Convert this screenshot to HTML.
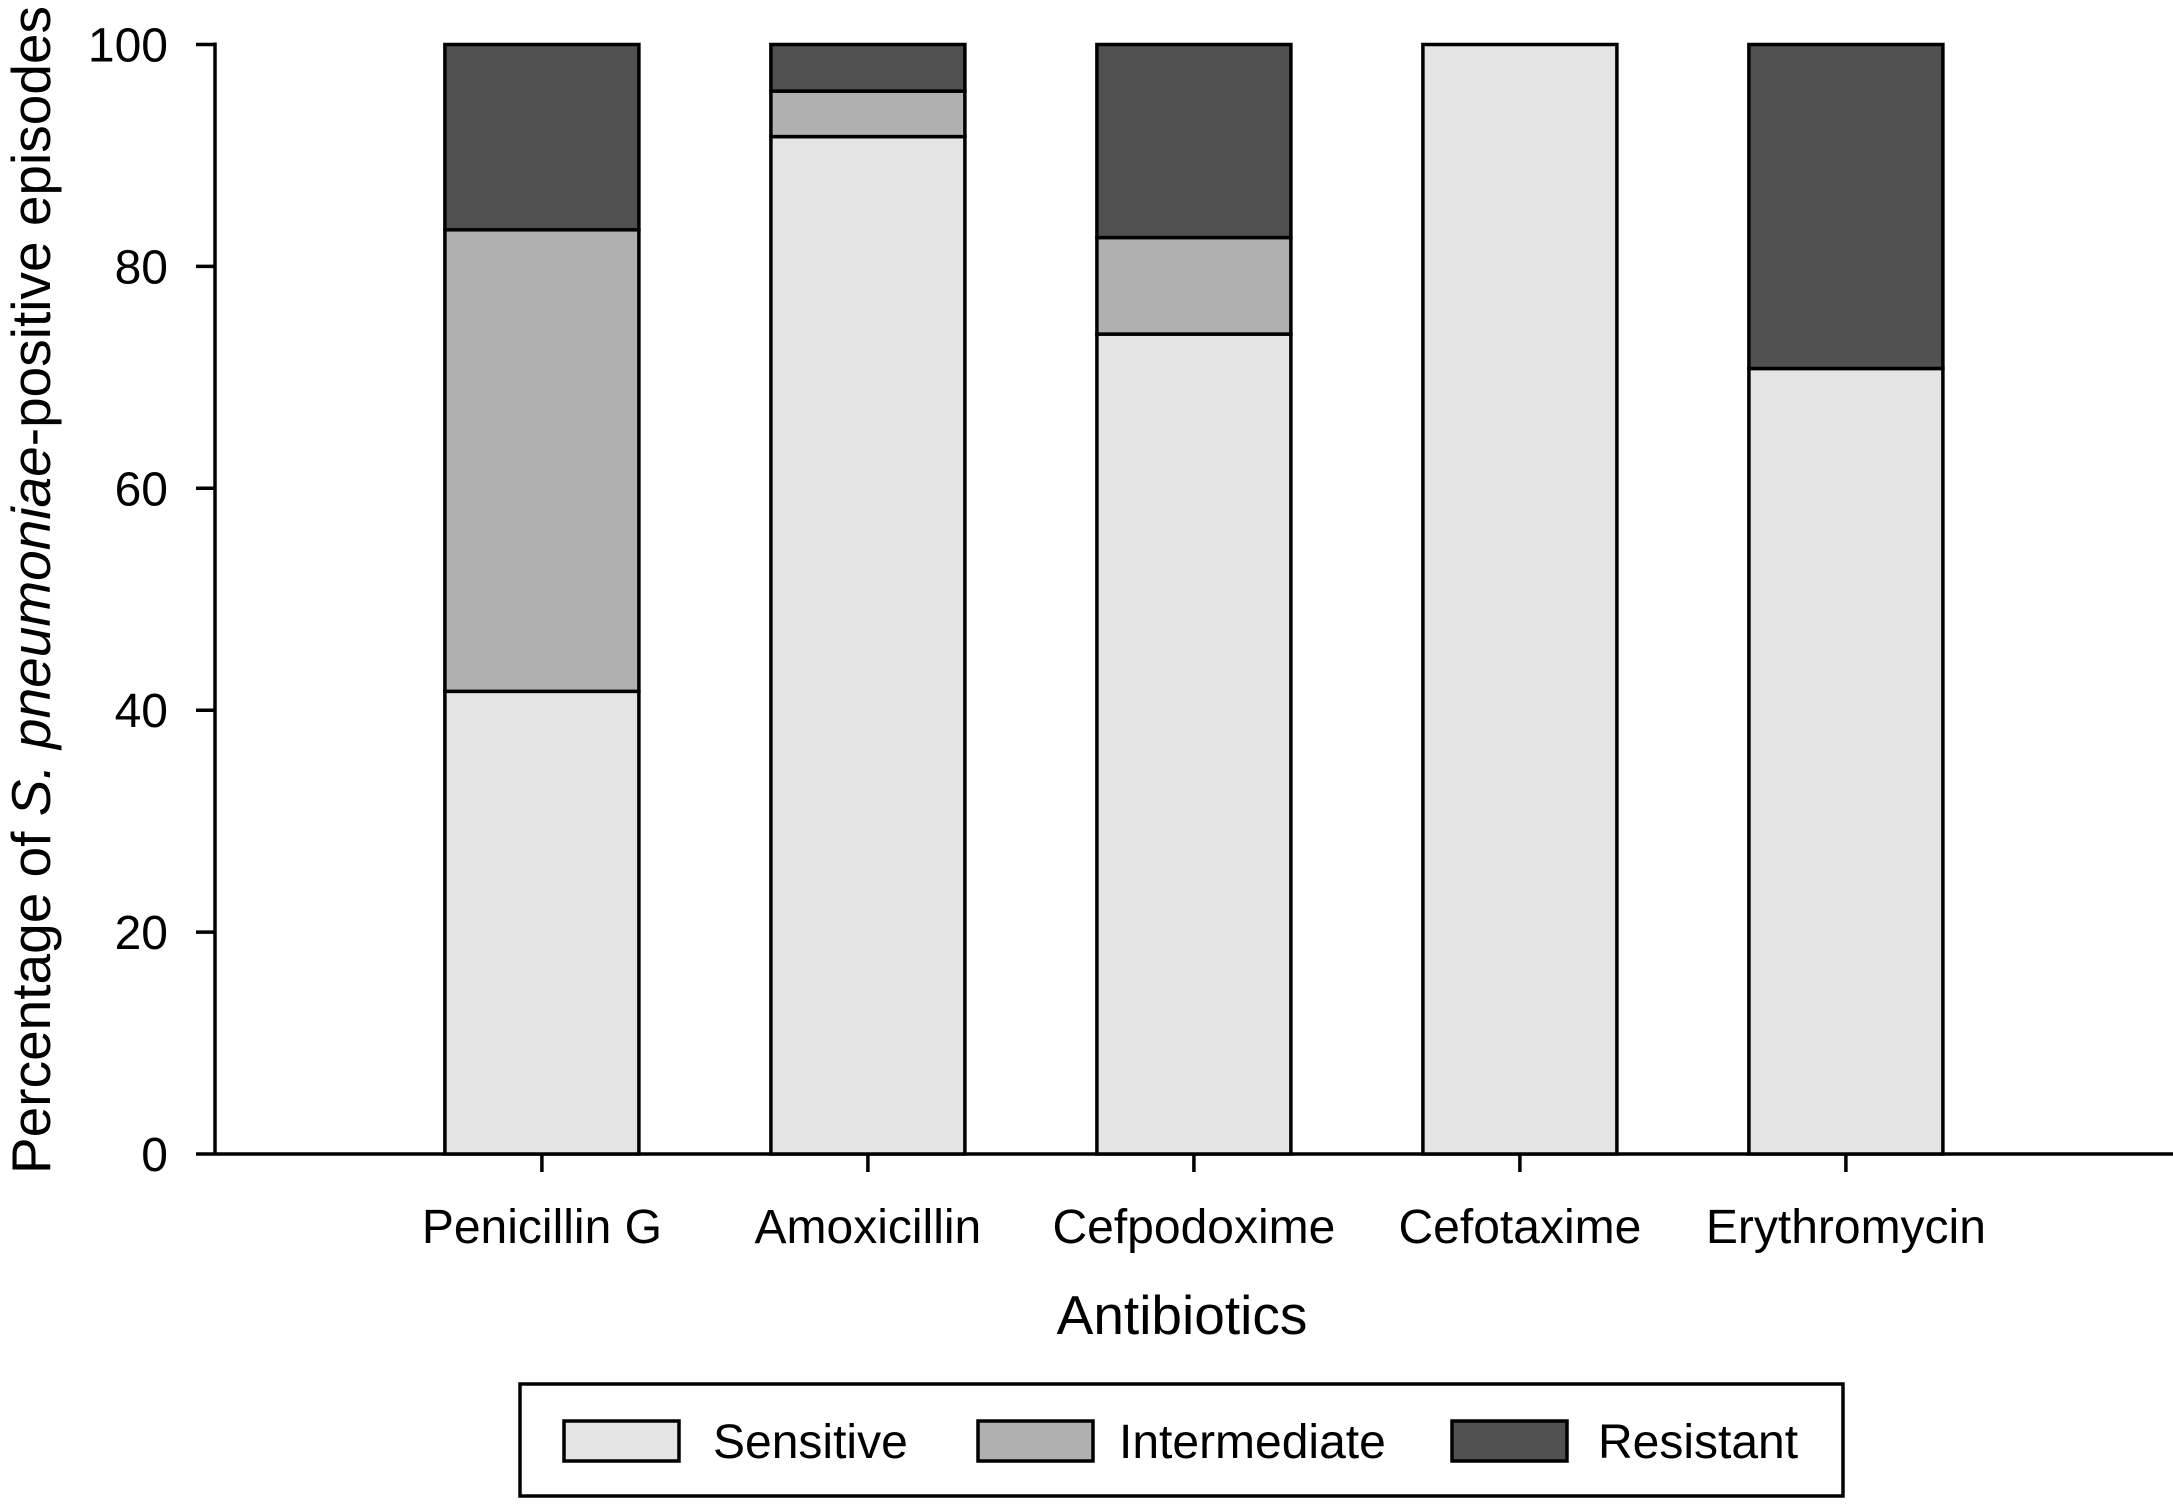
<!DOCTYPE html>
<html><head><meta charset="utf-8"><style>
html,body{margin:0;padding:0;background:#fff}
svg text{font-family:"Liberation Sans",Arial,sans-serif;fill:#000}
</style></head><body>
<svg id="chart" width="2173" height="1499" viewBox="0 0 2173 1499" xmlns="http://www.w3.org/2000/svg">
<g id="plot"></g>
</svg>
<script>
const categories = ["Penicillin G","Amoxicillin","Cefpodoxime","Cefotaxime","Erythromycin"];
const sensitive = [41.7, 91.7, 73.9, 100, 70.8];
const intermediate = [41.6, 4.1, 8.7, 0, 0];
const resistant = [16.7, 4.2, 17.4, 0, 29.2];
const yTicks = [0,20,40,60,80,100];
const seriesNames = ["Sensitive","Intermediate","Resistant"];

const NS="http://www.w3.org/2000/svg";
const svg=document.getElementById('plot');
const y0=1154, y100=44.5;
const yScale=v=>y0-(y0-y100)*v/100;
const x0=541.9, step=326;
const xScale=i=>x0+i*step;
const barW=194;
const colors=["#e4e4e4","#b0b0b0","#505050"];
function mk(tag,attrs){const e=document.createElementNS(NS,tag);for(const k in attrs)e.setAttribute(k,attrs[k]);svg.appendChild(e);return e;}

let e=mk('line',{x1:215,y1:y0,x2:2173,y2:y0,stroke:'#000','stroke-width':3.5});


e=mk('line',{x1:215,y1:y100-2,x2:215,y2:y0,stroke:'#000','stroke-width':3.5});



yTicks.forEach(t=>{
  const y=yScale(t);
  let l=mk('line',{x1:196,y1:y,x2:215,y2:y,stroke:'#000','stroke-width':3.5});
  
  
  let tx=mk('text',{x:168,y:y+17,'text-anchor':'end','font-size':48});
  tx.textContent=t;
  
  
});

const series=[sensitive,intermediate,resistant];
categories.forEach((c,i)=>{
  const cx=xScale(i);
  let cum=0;
  series.forEach((s,k)=>{
    const v=s[i];
    if(v<=0) return;
    const yt=yScale(cum+v), yb=yScale(cum);
    let r=mk('rect',{x:cx-barW/2,y:yt,width:barW,height:yb-yt,fill:colors[k],stroke:'#000','stroke-width':3.5});
    
    
    cum+=v;
  });
  let l=mk('line',{x1:cx,y1:y0,x2:cx,y2:y0+18,stroke:'#000','stroke-width':3.5});
  
  
  let tx=mk('text',{x:cx,y:1243,'text-anchor':'middle','font-size':48});
  tx.textContent=c;
  
  
});

let xt=mk('text',{x:1182,y:1334,'text-anchor':'middle','font-size':55});
xt.textContent='Antibiotics';



let yt=mk('text',{x:0,y:0,'text-anchor':'middle','font-size':55,transform:'translate(50,590) rotate(-90)'});
yt.innerHTML='Percentage of <tspan font-style="italic">S. pneumoniae</tspan>-positive episodes';



let lb=mk('rect',{x:520,y:1384,width:1323,height:112,fill:'#fff',stroke:'#000','stroke-width':3.5});


const swX=[564,978,1452], txX=[713,1119,1598];
seriesNames.forEach((n,k)=>{
  let s=mk('rect',{x:swX[k],y:1421,width:115,height:40,fill:colors[k],stroke:'#000','stroke-width':3.5});
  
  
  let t=mk('text',{x:txX[k],y:1458,'font-size':48});
  t.textContent=n;
  
  
});
</script>
</body></html>
